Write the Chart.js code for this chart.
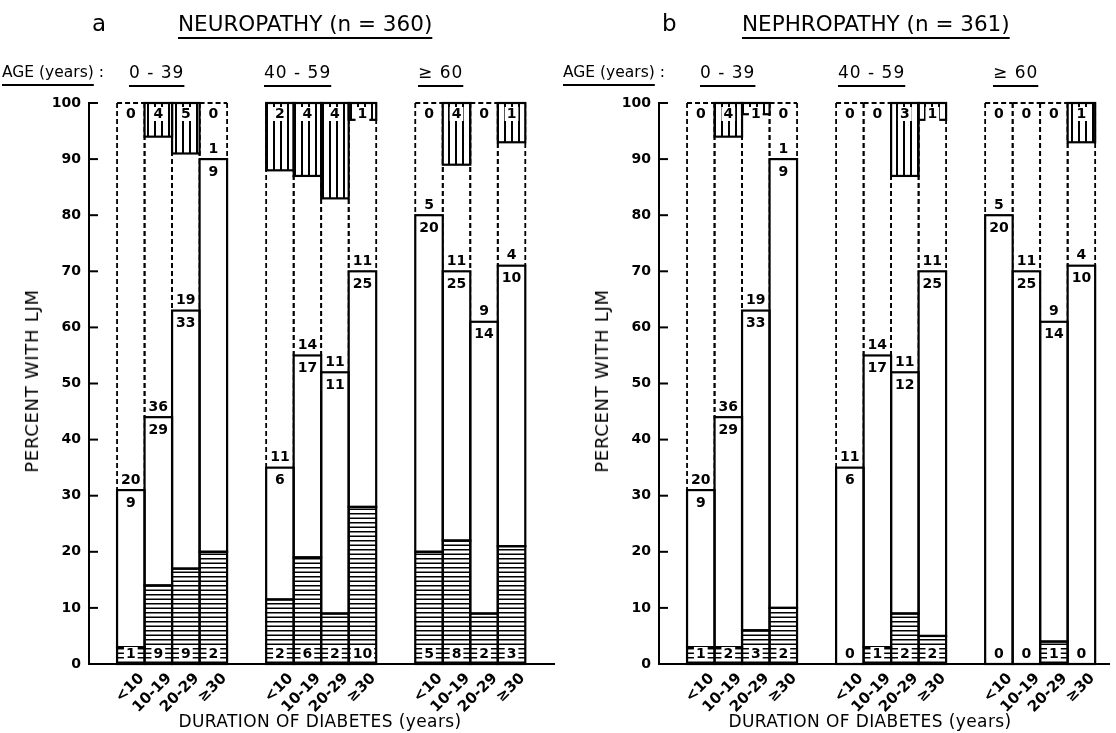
<!DOCTYPE html>
<html><head><meta charset="utf-8">
<script src="https://cdn.jsdelivr.net/npm/chart.js@4.4.1/dist/chart.umd.min.js"></script>
<style>
body{margin:0;background:#fff;}
#wrap{position:relative;width:1116px;height:733px;overflow:hidden;background:#fff;font-family:"DejaVu Sans",sans-serif;color:#000;}
canvas{position:absolute;top:0;}
.t{position:absolute;white-space:nowrap;line-height:1;}
.u{text-decoration:underline;text-decoration-thickness:2px;}
.rot{transform:translate(-50%,-50%) rotate(-90deg);}
.ctr{transform:translateX(-50%);}
</style></head><body>
<div id="wrap">
<canvas id="ca" width="560" height="733" style="left:0"></canvas>
<canvas id="cb" width="556" height="733" style="left:560px"></canvas>

<div class="t" style="left:92px;top:12px;font-size:23px">a</div>
<div class="t u" style="left:178px;top:13px;font-size:21.5px;text-underline-offset:6px">NEUROPATHY (n = 360)</div>
<div class="t" style="left:662px;top:12px;font-size:23px">b</div>
<div class="t u" style="left:742px;top:13px;font-size:21.5px;text-underline-offset:6px">NEPHROPATHY (n = 361)</div>

<div class="t" style="left:2px;top:65px;font-size:15.5px"><span class="u" style="text-underline-offset:7px">AGE (years)</span> :</div>
<div class="t u" style="left:129px;top:64px;font-size:17px;letter-spacing:1px;text-underline-offset:7px">0 - 39</div>
<div class="t u" style="left:264px;top:64px;font-size:17px;letter-spacing:1px;text-underline-offset:7px">40 - 59</div>
<div class="t u" style="left:418px;top:64px;font-size:17px;letter-spacing:1px;text-underline-offset:7px">≥ 60</div>

<div class="t" style="left:563px;top:65px;font-size:15.5px"><span class="u" style="text-underline-offset:7px">AGE (years)</span> :</div>
<div class="t u" style="left:700px;top:64px;font-size:17px;letter-spacing:1px;text-underline-offset:7px">0 - 39</div>
<div class="t u" style="left:838px;top:64px;font-size:17px;letter-spacing:1px;text-underline-offset:7px">40 - 59</div>
<div class="t u" style="left:993px;top:64px;font-size:17px;letter-spacing:1px;text-underline-offset:7px">≥ 60</div>

<div class="t rot" style="left:32px;top:381px;font-size:18px;letter-spacing:0.7px">PERCENT WITH LJM</div>
<div class="t rot" style="left:602px;top:381px;font-size:18px;letter-spacing:0.7px">PERCENT WITH LJM</div>

<div class="t ctr" style="left:320px;top:713px;font-size:17px;letter-spacing:0.4px">DURATION OF DIABETES (years)</div>
<div class="t ctr" style="left:870px;top:713px;font-size:17px;letter-spacing:0.4px">DURATION OF DIABETES (years)</div>
</div>
<script>
// ---------- data ----------
const DURATION_LABELS = ['<10', '10-19', '20-29', '≥30'];
const AGE_GROUP_LABELS = ['0 - 39', '40 - 59', '≥ 60'];
const Y_TICK_VALUES = [0, 10, 20, 30, 40, 50, 60, 70, 80, 90, 100];

// a  NEUROPATHY
const NEURO_HATCH_TOP = [3, 14, 17, 20, 11.5, 19, 9, 28, 20, 22, 9, 21];
const NEURO_LJM_TOP = [31, 44, 63, 90, 35, 55, 52, 70, 80, 70, 61, 71];
const NEURO_UPPER_HATCH_FROM = [null, 94, 91, null, 88, 87, 83, 97, null, 89, null, 93];
const NEURO_N_BOTTOM = [1, 9, 9, 2, 2, 6, 2, 10, 5, 8, 2, 3];
const NEURO_N_BELOW = [9, 29, 33, 9, 6, 17, 11, 25, 20, 25, 14, 10];
const NEURO_N_ABOVE = [20, 36, 19, 1, 11, 14, 11, 11, 5, 11, 9, 4];
const NEURO_N_TOP = [0, 4, 5, 0, 2, 4, 4, 1, 0, 4, 0, 1];

// b  NEPHROPATHY
const NEPHRO_HATCH_TOP = [3, 3, 6, 10, 0, 3, 9, 5, 0, 0, 4, 0];
const NEPHRO_LJM_TOP = [31, 44, 63, 90, 35, 55, 52, 70, 80, 70, 61, 71];
const NEPHRO_UPPER_HATCH_FROM = [null, 94, 98, null, null, null, 87, 97, null, null, null, 93];
const NEPHRO_N_BOTTOM = [1, 2, 3, 2, 0, 1, 2, 2, 0, 0, 1, 0];
const NEPHRO_N_BELOW = [9, 29, 33, 9, 6, 17, 12, 25, 20, 25, 14, 10];
const NEPHRO_N_ABOVE = [20, 36, 19, 1, 11, 14, 11, 11, 5, 11, 9, 4];
const NEPHRO_N_TOP = [0, 4, 1, 0, 0, 0, 3, 1, 0, 0, 0, 1];

// ---------- layout ----------
const GROUP_STEP = 5.42;
const FONT = '"DejaVu Sans", sans-serif';

function hatchH(ctx) {
  const c = document.createElement('canvas'); c.width = 8; c.height = 9;
  const g = c.getContext('2d');
  g.fillStyle = '#fff'; g.fillRect(0, 0, 8, 9);
  g.fillStyle = '#000'; g.fillRect(0, 0, 8, 1.5); g.fillRect(0, 4.5, 8, 1.5);
  return ctx.createPattern(c, 'repeat');
}
function hatchV(ctx) {
  const c = document.createElement('canvas'); c.width = 7; c.height = 8;
  const g = c.getContext('2d');
  g.fillStyle = '#fff'; g.fillRect(0, 0, 7, 8);
  g.fillStyle = '#000'; g.fillRect(0, 0, 2, 8);
  return ctx.createPattern(c, 'repeat');
}

function makePanel(id, d, axisWidth, padRight, xMax) {
  const ctx = document.getElementById(id).getContext('2d');
  const xs = d.ljm.map((_, i) => Math.floor(i / 4) * GROUP_STEP + (i % 4));
  const open = xs.map((x, i) => ({x, y: [d.ljm[i], 100]}));
  const ljm = xs.map((x, i) => ({x, y: [d.hatch[i], d.ljm[i]]}));
  const bottom = xs.map((x, i) => ({x, y: [0, d.hatch[i]]})).filter((p, i) => d.hatch[i] > 0);
  const upper = xs.map((x, i) => ({x, y: [d.upper[i], 100]})).filter((p, i) => d.upper[i] !== null);

  const seg = (c, x1, y1, x2, y2) => { c.beginPath(); c.moveTo(x1, y1); c.lineTo(x2, y2); c.stroke(); };

  const plugin = {
    id: 'ljmDraw',
    beforeDatasetsDraw(chart) {
      const c = chart.ctx;
      c.save(); c.strokeStyle = '#000'; c.lineWidth = 1.8; c.setLineDash([5, 3]);
      chart.getDatasetMeta(0).data.forEach(el => {
        const p = el.getProps(['x', 'y', 'base', 'width'], true);
        const top = Math.min(p.y, p.base), bot = Math.max(p.y, p.base);
        const l = p.x - p.width / 2, r = p.x + p.width / 2;
        seg(c, l, top, r, top); seg(c, l, top, l, bot); seg(c, r, top, r, bot);
      });
      c.restore();
    },
    afterDatasetsDraw(chart) {
      const c = chart.ctx, xS = chart.scales.x, yS = chart.scales.y, area = chart.chartArea;
      c.save();
      c.strokeStyle = '#000'; c.lineWidth = 2.2; c.setLineDash([]);
      [1, 2, 3].forEach(di => chart.getDatasetMeta(di).data.forEach(el => {
        const p = el.getProps(['x', 'y', 'base', 'width'], true);
        const top = Math.min(p.y, p.base), bot = Math.max(p.y, p.base);
        c.strokeRect(p.x - p.width / 2, top, p.width, bot - top);
      }));
      // baseline
      const y0 = yS.getPixelForValue(0);
      seg(c, area.left, y0, area.right, y0);
      // inward ticks
      c.lineWidth = 2;
      yS.ticks.forEach(t => { const yy = yS.getPixelForValue(t.value); seg(c, area.left, yy, area.left + 9, yy); });
      // numbers
      c.font = 'bold 14px ' + FONT; c.fillStyle = '#000'; c.textAlign = 'center'; c.textBaseline = 'middle';
      const y100 = yS.getPixelForValue(100);
      const boxed = (txt, x, y) => {
        const w = c.measureText(txt).width;
        c.fillStyle = '#fff'; c.fillRect(x - w / 2 - 2, y - 7, w + 4, 14);
        c.fillStyle = '#000'; c.fillText(txt, x, y);
      };
      xs.forEach((xv, i) => {
        const cx = xS.getPixelForValue(xv);
        const yt = yS.getPixelForValue(d.ljm[i]);
        boxed(String(d.nBottom[i]), cx, y0 - 10);
        c.fillText(String(d.nAbove[i]), cx, yt - 10);
        c.fillText(String(d.nBelow[i]), cx, yt + 13);
        boxed(String(d.nTop[i]), cx, y100 + 11);
      });
      // duration tick labels (rotated)
      c.font = 'bold 15px ' + FONT; c.textAlign = 'right'; c.textBaseline = 'middle';
      xs.forEach((xv, i) => {
        const cx = xS.getPixelForValue(xv);
        c.save(); c.translate(cx + 11, y0 + 12); c.rotate(-Math.PI / 4);
        c.fillText(DURATION_LABELS[i % 4], 0, 0); c.restore();
      });
      c.restore();
    }
  };

  return new Chart(ctx, {
    type: 'bar',
    data: {
      datasets: [
        {label: 'open', data: open, backgroundColor: 'rgba(0,0,0,0)', borderWidth: 0},
        {label: 'ljm', data: ljm, backgroundColor: '#fff', borderWidth: 0},
        {label: 'complication with LJM', data: bottom, backgroundColor: hatchH(ctx), borderWidth: 0},
        {label: 'complication without LJM', data: upper, backgroundColor: hatchV(ctx), borderWidth: 0}
      ]
    },
    options: {
      responsive: false, animation: false,
      layout: {padding: {left: 0, top: 103, right: padRight, bottom: 69}},
      datasets: {bar: {barPercentage: 1, categoryPercentage: 1, grouped: false}},
      plugins: {legend: {display: false}, tooltip: {enabled: false}, title: {display: false}},
      scales: {
        x: {type: 'linear', min: -1.52, max: xMax, offset: false, display: false},
        y: {
          min: 0, max: 100,
          afterBuildTicks: s => { s.ticks = Y_TICK_VALUES.map(v => ({value: v})); },
          afterFit: s => { s.width = axisWidth; },
          ticks: {color: '#000', font: {family: 'DejaVu Sans', size: 14, weight: 'bold'}, padding: 8},
          grid: {display: false, drawTicks: false},
          border: {display: true, color: '#000', width: 2}
        }
      }
    },
    plugins: [plugin]
  });
}

makePanel('ca', {hatch: NEURO_HATCH_TOP, ljm: NEURO_LJM_TOP, upper: NEURO_UPPER_HATCH_FROM,
  nBottom: NEURO_N_BOTTOM, nBelow: NEURO_N_BELOW, nAbove: NEURO_N_ABOVE, nTop: NEURO_N_TOP}, 89, 5, 15.42);
makePanel('cb', {hatch: NEPHRO_HATCH_TOP, ljm: NEPHRO_LJM_TOP, upper: NEPHRO_UPPER_HATCH_FROM,
  nBottom: NEPHRO_N_BOTTOM, nBelow: NEPHRO_N_BELOW, nAbove: NEPHRO_N_ABOVE, nTop: NEPHRO_N_TOP}, 99, 6, 14.88);
</script>
</body></html>
